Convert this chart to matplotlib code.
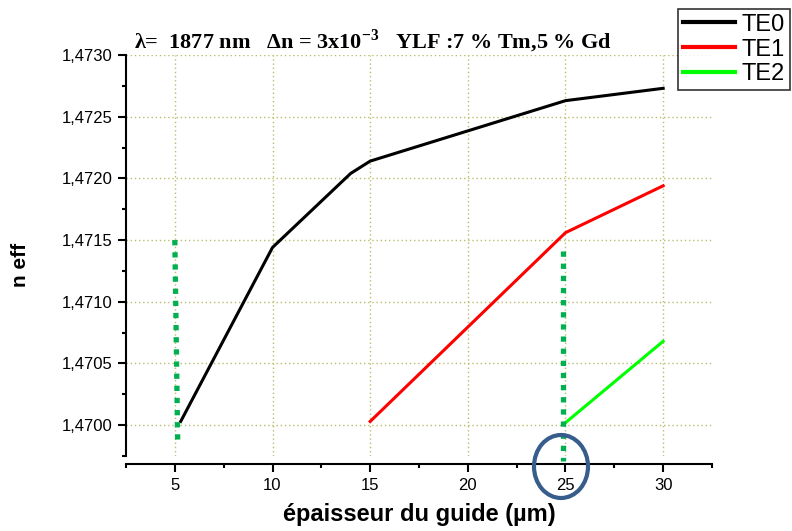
import matplotlib
matplotlib.use("Agg")
import matplotlib.pyplot as plt
from matplotlib.ticker import MultipleLocator, FuncFormatter
from matplotlib.patches import Ellipse

plt.rcParams["mathtext.fontset"] = "custom"
plt.rcParams["mathtext.rm"] = "Liberation Serif:bold"
plt.rcParams["mathtext.bf"] = "Liberation Serif:bold"

# Data
te0_x = [5.3, 10, 14, 15, 25, 30]
te0_y = [1.47003, 1.47144, 1.47204, 1.47214, 1.47263, 1.47273]
te1_x = [15, 25, 30]
te1_y = [1.47003, 1.47156, 1.47194]
te2_x = [25, 30]
te2_y = [1.47002, 1.47068]
labels = ["TE0", "TE1", "TE2"]
title = "λ=  1877 nm   Δn = 3x10$^{\\mathbf{-3}}$   YLF :7 % Tm,5 % Gd"
xlabel = "épaisseur du guide (µm)"
ylabel = "n eff"

W, H = 792, 531
fig = plt.figure(figsize=(W/100, H/100), dpi=100)
ax = fig.add_axes([126/W, 1-456/H, (712-126)/W, (456-55)/H])

l0, = ax.plot(te0_x, te0_y, color="black", lw=2.2, label=labels[0])
l1, = ax.plot(te1_x, te1_y, color="#ff0000", lw=2.2, label=labels[1])
l2, = ax.plot(te2_x, te2_y, color="#00ff00", lw=2.2, label=labels[2])

# green dotted markers
gc = "#00b050"
ax.plot([5.0, 5.15], [1.4715, 1.46983], color=gc, lw=3.8,
        linestyle=(0, (1.0, 1.3)), clip_on=False, zorder=4)
ax.plot([24.88, 24.88], [1.47141, 1.46971], color=gc, lw=3.8,
        linestyle=(0, (1.0, 1.3)), clip_on=False, zorder=4)

ax.set_xlim(2.5, 32.5)
ax.set_ylim(1.46975, 1.4730)
ax.xaxis.set_major_locator(MultipleLocator(5))
ax.xaxis.set_minor_locator(MultipleLocator(2.5))
ax.yaxis.set_major_locator(MultipleLocator(0.0005))
ax.yaxis.set_minor_locator(MultipleLocator(0.00025))
ax.yaxis.set_major_formatter(FuncFormatter(lambda v, p: f"{v:.4f}".replace(".", ",")))
ax.xaxis.set_major_formatter(FuncFormatter(lambda v, p: f"{v:.0f}"))

ax.spines["top"].set_visible(False)
ax.spines["right"].set_visible(False)
ax.spines["bottom"].set_position(("outward", 6))
ax.spines["left"].set_linewidth(1.5)
ax.spines["bottom"].set_linewidth(1.5)
ax.tick_params(axis="both", which="major", direction="out", length=6, width=1.5,
               labelsize=12, pad=3.5)
ax.tick_params(axis="both", which="minor", direction="out", length=3, width=1.5)
for t in ax.get_xticklabels() + ax.get_yticklabels():
    t.set_fontfamily("Liberation Sans")

ax.grid(True, which="major", color="#bcbc70", linestyle=(0, (1, 2)), lw=1.0)
ax.set_axisbelow(True)

fig.text(419/W, 1-515/H, xlabel, fontsize=17, fontweight="bold",
         fontfamily="Liberation Sans", ha="center", va="center")
fig.text(20/W, 1-265/H, ylabel, fontsize=15, fontweight="bold",
         fontfamily="Liberation Sans", ha="center", va="center", rotation=90)

fig.text(134/W, 1-41/H, title, fontsize=16, fontweight="bold",
         fontfamily="Liberation Serif", va="center", ha="left")

leg = fig.legend(handles=[l0, l1, l2], loc="upper left",
                 bbox_to_anchor=(678/W, 1-9/H), frameon=True,
                 fancybox=False, edgecolor="black",
                 handlelength=2.2, handletextpad=0.3, labelspacing=0.12,
                 borderpad=0.2, borderaxespad=0,
                 prop={"family": "Liberation Sans", "size": 17})
leg.get_frame().set_linewidth(1.2)
for h in leg.get_lines():
    h.set_linewidth(3)

ell = Ellipse((561/W, 1-466.5/H), 54/W, 63/H, transform=fig.transFigure,
              fill=False, edgecolor="#375d8c", lw=3.0)
fig.add_artist(ell)

fig.savefig("out.png", dpi=100)
